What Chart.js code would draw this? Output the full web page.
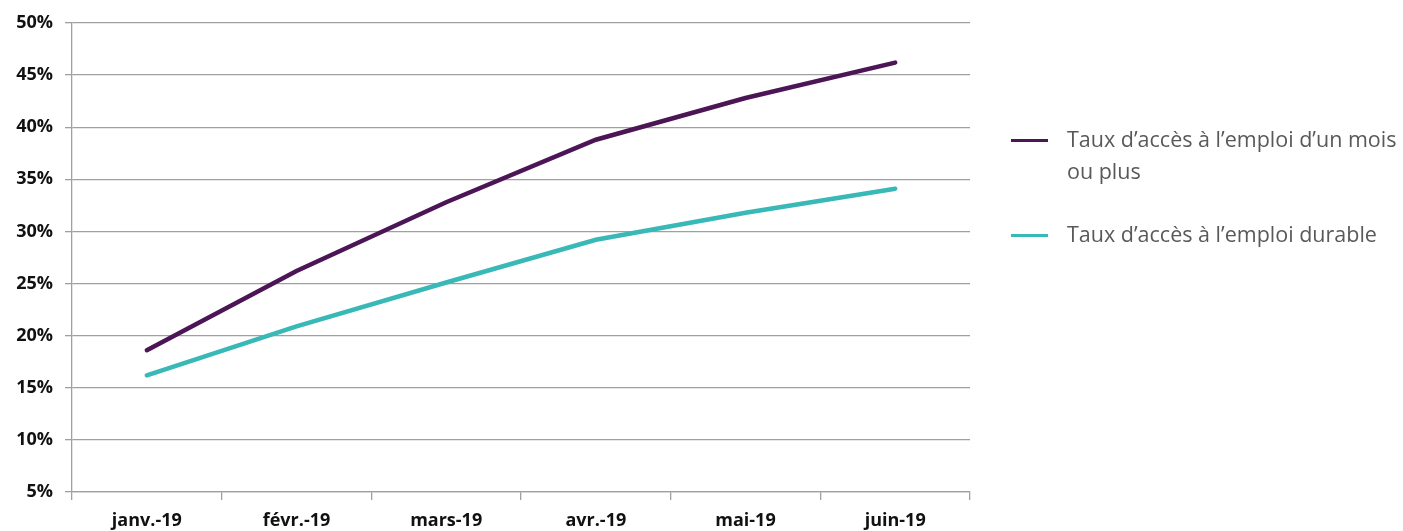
<!DOCTYPE html>
<html>
<head>
<meta charset="utf-8">
<script src="https://cdn.jsdelivr.net/npm/chart.js@4/dist/chart.umd.min.js"></script>
<style>
  html, body { margin: 0; padding: 0; background: #fff; }
  #wrap { position: relative; width: 1403px; height: 531px; }
  #legend { position: absolute; left: 1011px; top: 123px; font-family: "Open Sans", sans-serif; font-size: 21.5px; color: #595959; line-height: 32px; }
  .item { position: relative; padding-left: 56px; margin-bottom: 31px; white-space: nowrap; }
  .item span { position: absolute; left: 0; top: 16px; width: 37px; height: 3px; }
</style>
</head>
<body>
<div id="wrap">
  <canvas id="chart" width="1403" height="531"></canvas>
  <div id="legend"></div>
</div>
<script>
const months = ['janv.-19', 'févr.-19', 'mars-19', 'avr.-19', 'mai-19', 'juin-19'];
const unMoisOuPlus = [18.6, 26.2, 32.8, 38.8, 42.8, 46.2];
const durable = [16.2, 20.9, 25.1, 29.2, 31.8, 34.1];
const seriesNames = ["Taux d’accès à l’emploi d’un mois<br>ou plus", "Taux d’accès à l’emploi durable"];
const colors = ['#4b1556', '#38b8b7'];

const ctx = document.getElementById('chart');
new Chart(ctx, {
  type: 'line',
  data: {
    labels: months,
    datasets: [
      { label: 'un mois ou plus', data: unMoisOuPlus, borderColor: colors[0], borderWidth: 4.5, pointRadius: 0, tension: 0, borderCapStyle: 'round' },
      { label: 'durable', data: durable, borderColor: colors[1], borderWidth: 4.5, pointRadius: 0, tension: 0, borderCapStyle: 'round' }
    ]
  },
  options: {
    responsive: false,
    animation: false,
    layout: { padding: { top: 23, right: 433, left: 0, bottom: 0 } },
    plugins: { legend: { display: false }, tooltip: { enabled: false } },
    scales: {
      x: {
        offset: true,
        grid: { offset: true, drawOnChartArea: false, drawTicks: true, tickLength: 8, color: '#a0a0a0', lineWidth: 1.3 },
        border: { color: '#a0a0a0', width: 1.3 },
        ticks: { color: '#111', font: { family: 'Open Sans', size: 18, weight: 'bold' }, padding: 10, maxRotation: 0 },
        afterFit: s => { s.height = 39; }
      },
      y: {
        min: 5, max: 50,
        grid: { color: '#a0a0a0', lineWidth: 1.3, tickLength: 7 },
        border: { color: '#a0a0a0', width: 1.3 },
        ticks: { stepSize: 5, color: '#111', font: { family: 'Open Sans', size: 18, weight: 'bold' }, padding: 12, callback: v => v + '%' },
        afterFit: s => { s.width = 72; }
      }
    }
  }
});

const legend = document.getElementById('legend');
seriesNames.forEach((name, i) => {
  const d = document.createElement('div');
  d.className = 'item';
  d.innerHTML = '<span style="background:' + colors[i] + '"></span>' + name;
  legend.appendChild(d);
});
</script>
</body>
</html>
